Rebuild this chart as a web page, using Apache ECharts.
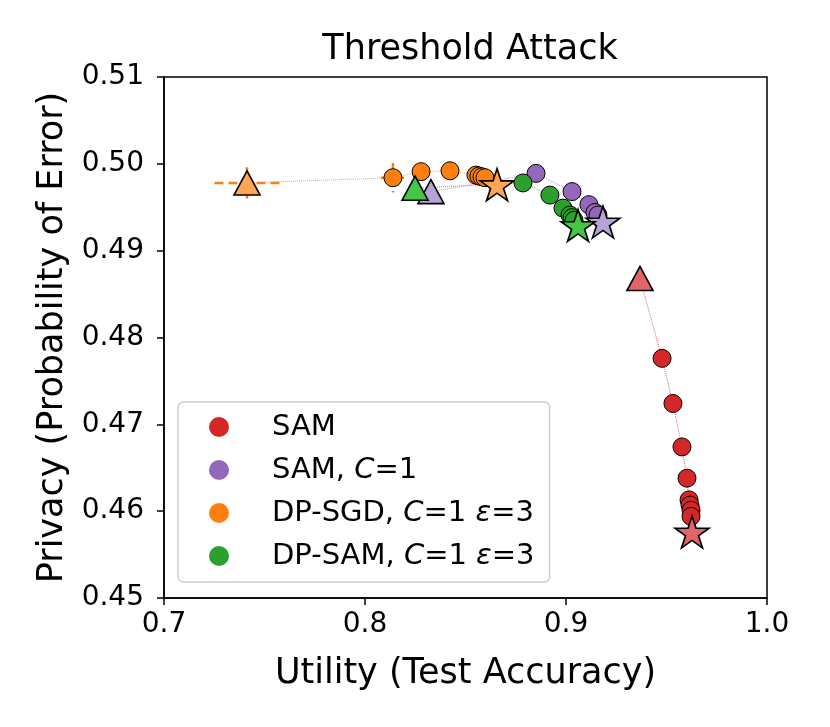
<!DOCTYPE html>
<html>
<head>
<meta charset="utf-8">
<script src="https://cdn.jsdelivr.net/npm/echarts@6/dist/echarts.min.js"></script>
<style>
  html, body { margin: 0; padding: 0; background: #fff; }
  #chart { width: 830px; height: 727px; }
</style>
</head>
<body>
<div id="chart"></div>
<script>
// first point = triangle, last point = star, the rest are circles
var samX   = [0.9368, 0.9478, 0.9532, 0.9577, 0.9602, 0.9612, 0.9617, 0.9622, 0.9622, 0.9627];
var samY   = [0.4868, 0.4776, 0.4724, 0.4674, 0.4638, 0.4613, 0.4607, 0.4601, 0.4594, 0.4576];

var samC1X = [0.8328, 0.8851, 0.9030, 0.9114, 0.9144, 0.9159, 0.9184];
var samC1Y = [0.4968, 0.4989, 0.4968, 0.4953, 0.4944, 0.4941, 0.4933];

var sgdX   = [0.7413, 0.8139, 0.8279, 0.8423, 0.8552, 0.8567, 0.8582, 0.8597, 0.8657];
var sgdY   = [0.4978, 0.4984, 0.4991, 0.4992, 0.4987, 0.4986, 0.4985, 0.4984, 0.4976];
var sgdXErr = [0.0162, 0.0060, 0, 0, 0, 0, 0, 0, 0];
var sgdYErr = [0.0018, 0.0017, 0, 0, 0, 0, 0, 0, 0];

var dpsamX = [0.8249, 0.8786, 0.8920, 0.8985, 0.9020, 0.9030, 0.9040, 0.9060];
var dpsamY = [0.4972, 0.4978, 0.4964, 0.4949, 0.4941, 0.4938, 0.4935, 0.4929];

var xTicks = [0.7, 0.8, 0.9, 1.0];
var yTicks = [0.45, 0.46, 0.47, 0.48, 0.49, 0.50, 0.51];

var FONT = 'DejaVu Sans';
var STAR = 'path://M50 0 L61.23 34.55 L97.55 34.55 L68.17 55.9 L79.39 90.45 L50 69.1 L20.61 90.45 L31.83 55.9 L2.45 34.55 L38.77 34.55 Z';

var groups = [
    { name: 'SAM', xs: samX, ys: samY, color: '#d62728', light: '#e36466' },
    { name: 'SAM, C=1', xs: samC1X, ys: samC1Y, color: '#9467bd', light: '#b8a3d9' },
    { name: 'DP-SGD, C=1 ε=3', xs: sgdX, ys: sgdY, color: '#ff7f0e', light: '#ffa555' },
    { name: 'DP-SAM, C=1 ε=3', xs: dpsamX, ys: dpsamY, color: '#2ca02c', light: '#44c744' }
];

var legendText = {
    'SAM': 'SAM',
    'SAM, C=1': 'SAM, {i|C}=1',
    'DP-SGD, C=1 ε=3': 'DP-SGD, {i|C}=1 {i|ε}=3',
    'DP-SAM, C=1 ε=3': 'DP-SAM, {i|C}=1 {i|ε}=3'
};

function buildPoints(g) {
    var n = g.xs.length;
    return g.xs.map(function (x, i) {
        if (i === 0) {
            return { value: [x, g.ys[i]], symbol: 'triangle', symbolSize: [26, 24],
                     itemStyle: { color: g.light, borderColor: '#000', borderWidth: 1.6 } };
        }
        if (i === n - 1) {
            return { value: [x, g.ys[i]], symbol: STAR, symbolSize: [34, 32],
                     itemStyle: { color: g.light, borderColor: '#000', borderWidth: 1.6 } };
        }
        return { value: [x, g.ys[i]], symbol: 'circle', symbolSize: 18,
                 itemStyle: { color: g.color, borderColor: '#000', borderWidth: 1 } };
    });
}

var series = groups.map(function (g) {
    return {
        name: g.name,
        type: 'line',
        data: buildPoints(g),
        showAllSymbol: true,
        itemStyle: { color: g.color },
        lineStyle: { color: g.color, width: 1, type: 'dotted', opacity: 0.7 },
        emphasis: { disabled: true },
        z: 3
    };
});

// orange error bars
var errData = [];
for (var i = 0; i < sgdX.length; i++) {
    if (sgdXErr[i] > 0 || sgdYErr[i] > 0) {
        errData.push([sgdX[i], sgdY[i], sgdXErr[i], sgdYErr[i]]);
    }
}
series.unshift({
    type: 'custom',
    z: 2,
    silent: true,
    data: errData,
    encode: { x: 0, y: 1 },
    renderItem: function (params, api) {
        var x = api.value(0), y = api.value(1), ex = api.value(2), ey = api.value(3);
        var l = api.coord([x - ex, y]), r = api.coord([x + ex, y]);
        var t = api.coord([x, y + ey]), b = api.coord([x, y - ey]);
        var st = { stroke: '#ff7f0e', lineWidth: 2.5, lineDash: [9, 5] };
        return {
            type: 'group',
            children: [
                { type: 'line', shape: { x1: l[0], y1: l[1], x2: r[0], y2: r[1] }, style: st },
                { type: 'line', shape: { x1: t[0], y1: t[1], x2: b[0], y2: b[1] }, style: st }
            ]
        };
    }
});

var chart = echarts.init(document.getElementById('chart'));

var option = {
    animation: false,
    backgroundColor: '#fff',
    textStyle: { fontFamily: FONT },
    title: {
        text: 'Threshold Attack',
        left: 465,
        textAlign: 'center',
        top: 27,
        textStyle: { fontFamily: FONT, fontSize: 35, fontWeight: 'normal', color: '#000' }
    },
    grid: {
        left: 164, right: 63, top: 77, bottom: 129,
        show: true, borderColor: '#000', borderWidth: 1.5, backgroundColor: 'transparent'
    },
    legend: {
        orient: 'vertical',
        left: 178,
        top: 402,
        data: groups.map(function (g) { return g.name; }),
        icon: 'circle',
        itemWidth: 20,
        itemHeight: 20,
        itemGap: 13,
        padding: [10, 15, 11, 31],
        backgroundColor: '#fff',
        borderColor: '#cccccc',
        borderWidth: 1.5,
        borderRadius: 5,
        itemStyle: { borderWidth: 0 },
        selectedMode: false,
        formatter: function (name) { return legendText[name]; },
        textStyle: {
            fontFamily: FONT, fontSize: 29, color: '#000', lineHeight: 30,
            padding: [0, 0, 0, 38],
            rich: { i: { fontFamily: FONT, fontSize: 29, fontStyle: 'italic', color: '#000' } }
        }
    },
    xAxis: {
        type: 'value',
        min: xTicks[0],
        max: xTicks[xTicks.length - 1],
        interval: 0.1,
        name: 'Utility (Test Accuracy)',
        nameLocation: 'middle',
        nameGap: 58,
        nameTextStyle: { fontFamily: FONT, fontSize: 35, color: '#000' },
        axisLine: { lineStyle: { color: '#000', width: 1.5 } },
        axisTick: { show: true, inside: false, length: 7, lineStyle: { color: '#000', width: 1.5 } },
        axisLabel: { margin: 13, fontFamily: FONT, fontSize: 28, color: '#000',
                     formatter: function (v) { return v.toFixed(1); } },
        splitLine: { show: false }
    },
    yAxis: {
        type: 'value',
        min: yTicks[0],
        max: yTicks[yTicks.length - 1],
        interval: 0.01,
        name: 'Privacy (Probability of Error)',
        nameLocation: 'middle',
        nameGap: 92,
        nameTextStyle: { fontFamily: FONT, fontSize: 35, color: '#000' },
        axisLine: { lineStyle: { color: '#000', width: 1.5 } },
        axisTick: { show: true, inside: false, length: 7, lineStyle: { color: '#000', width: 1.5 } },
        axisLabel: { margin: 20, fontFamily: FONT, fontSize: 28, color: '#000',
                     formatter: function (v) { return v.toFixed(2); } },
        splitLine: { show: false }
    },
    series: series
};

chart.setOption(option);
</script>
</body>
</html>
